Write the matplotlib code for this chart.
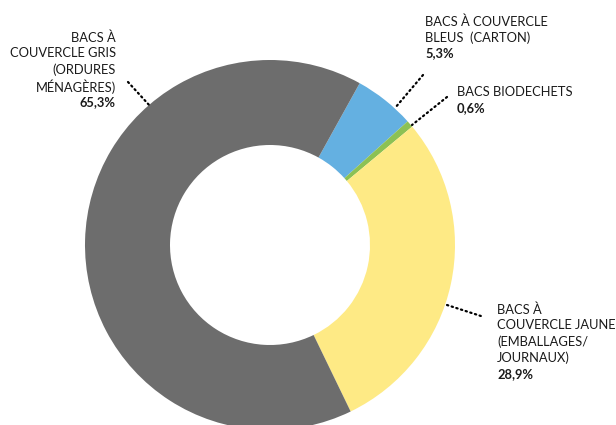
import matplotlib
matplotlib.use("Agg")
import matplotlib.pyplot as plt

# Data
labels = ["BACS À COUVERCLE\nBLEUS  (CARTON)", "BACS BIODECHETS",
          "BACS À\nCOUVERCLE JAUNE\n(EMBALLAGES/\nJOURNAUX)",
          "BACS À\nCOUVERCLE GRIS\n(ORDURES\nMÉNAGÈRES)"]
values = [5.3, 0.6, 28.9, 65.3]
pct_labels = ["5,3%", "0,6%", "28,9%", "65,3%"]
colors = ["#64b0e1", "#8cc154", "#feea85", "#6d6d6d"]

plt.rcParams['font.family'] = ['Lato', 'DejaVu Sans']

W, H = 616, 425
fig = plt.figure(figsize=(W / 100, H / 100), dpi=100)
ax = fig.add_axes([0, 0, 1, 1])

cx, cy, r = 270, H - 245, 185
ax.pie(values, colors=colors, startangle=61, counterclock=False,
       center=(cx, cy), radius=r, wedgeprops=dict(width=85, linewidth=0),
       frame=True)
ax.set_xlim(0, W)
ax.set_ylim(0, H)
ax.set_aspect('equal')
ax.axis('off')

# leader lines (pixel coords, y from top)
leaders = [((423, 75), (395, 108)),
           ((447, 97), (412, 125)),
           ((447, 305), (484, 317)),
           ((128, 82), (150, 106))]
for (x0, y0), (x1, y1) in leaders:
    ax.plot([x0, x1], [H - y0, H - y1], color="black", lw=1.6,
            linestyle=(0, (0.6, 1.6)), dash_capstyle='round')

# label positions (top-left / top-right of block, y from top)
pos = [(425, 15, 'left'), (457, 86, 'left'), (497, 303, 'left'), (116, 31, 'right')]
fs = 9.3
lh = 16.2
for lab, pct, (x, y, ha) in zip(labels, pct_labels, pos):
    lines = lab.split("\n")
    for i, ln in enumerate(lines):
        ax.text(x, H - y - i * lh, ln, ha=ha, va='top', fontsize=fs, color="#1a1a1a")
    ax.text(x, H - y - len(lines) * lh, pct, ha=ha, va='top', fontsize=fs,
            fontweight='bold', color="#1a1a1a")

fig.savefig("out.png", dpi=100)
